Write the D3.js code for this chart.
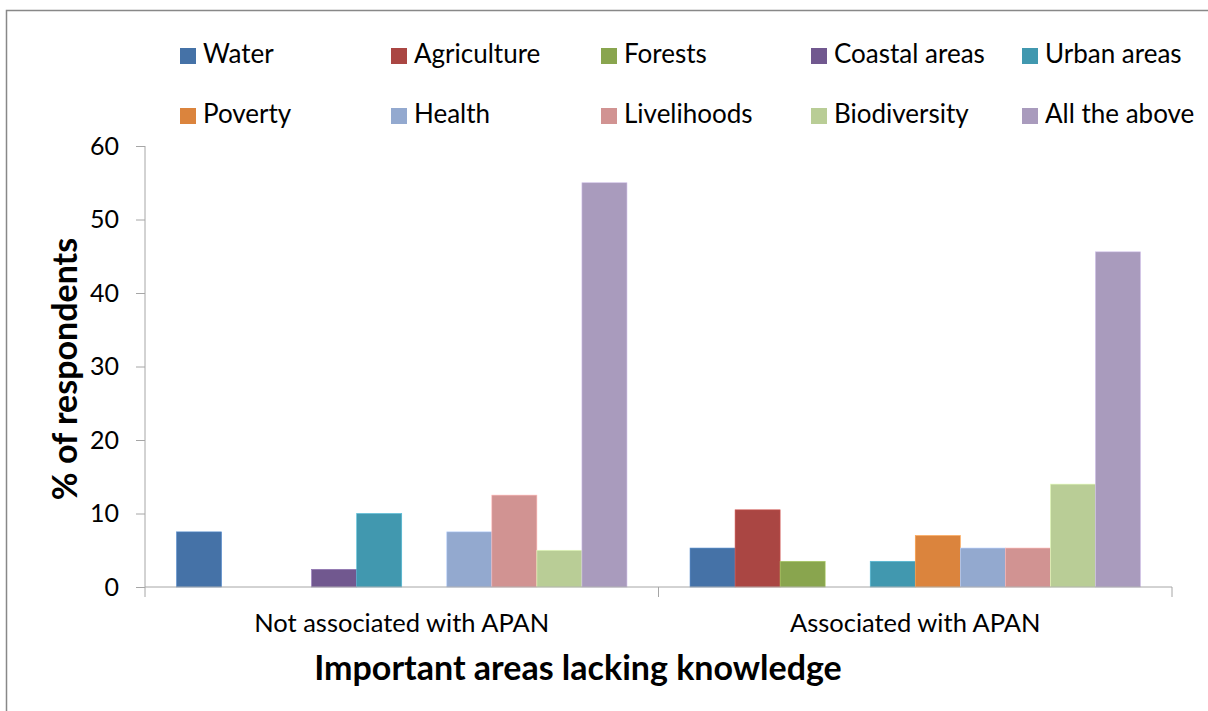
<!DOCTYPE html>
<html lang="en">
<head>
<meta charset="UTF-8">
<title>Important areas lacking knowledge</title>
<script src="https://cdnjs.cloudflare.com/ajax/libs/d3/7.8.5/d3.min.js"></script>
<style>
  * { margin: 0; padding: 0; box-sizing: border-box; }
  body { background: #fff; width: 1208px; height: 711px; overflow: hidden; }
  svg text { font-family: Lato, "Open Sans", sans-serif; fill: #000; }
</style>
</head>
<body>
<div id="chart"></div>
<script>
  // Data
  const groups = ["Not associated with APAN", "Associated with APAN"];
  const series = ["Water", "Agriculture", "Forests", "Coastal areas", "Urban areas",
                  "Poverty", "Health", "Livelihoods", "Biodiversity", "All the above"];
  const notAssociated = [7.5, 0, 0, 2.4, 10, 0, 7.5, 12.5, 5, 55];
  const associated = [5.3, 10.5, 3.5, 0, 3.5, 7, 5.3, 5.3, 14, 45.6];
  const colors = ["#4572A7", "#AA4643", "#89A54E", "#71588F", "#4198AF",
                  "#DB843D", "#93A9CF", "#D19392", "#B9CD96", "#A99BBD"];
  const yTicks = [0, 10, 20, 30, 40, 50, 60];

  const width = 1208, height = 711;
  const plot = {left: 145, right: 1172, top: 146, bottom: 587};

  const svg = d3.select("#chart").append("svg")
      .attr("width", width)
      .attr("height", height);

  // outer frame
  svg.append("rect")
      .attr("x", 6.5).attr("y", 10.5)
      .attr("width", 1220).attr("height", 720)
      .attr("fill", "none")
      .attr("stroke", "#888")
      .attr("stroke-width", 1.5);

  const values = [notAssociated, associated];

  const x0 = d3.scaleBand().domain(groups).range([plot.left, plot.right]).padding(0);
  const x1 = d3.scaleBand().domain(series).range([0, x0.bandwidth()])
      .paddingInner(0).paddingOuter(0.7);
  const y = d3.scaleLinear().domain([0, 60]).range([plot.bottom, plot.top]);

  // bars
  groups.forEach((g, gi) => {
    svg.append("g")
        .attr("transform", `translate(${x0(g)},0)`)
        .selectAll("rect")
        .data(series.map((s, si) => ({s, v: values[gi][si], c: colors[si]})).filter(d => d.v > 0))
        .join("rect")
        .attr("x", d => x1(d.s))
        .attr("y", d => y(d.v))
        .attr("width", x1.bandwidth())
        .attr("height", d => y(0) - y(d.v))
        .attr("fill", d => d.c)
        .attr("stroke", d => d3.color(d.c).brighter(0.6))
        .attr("stroke-width", 0.6);
  });

  // y axis
  const yAxis = svg.append("g")
      .attr("transform", `translate(${plot.left},0)`)
      .call(d3.axisLeft(y).tickValues(yTicks).tickSize(9).tickPadding(17));
  yAxis.select(".domain").attr("stroke", "#a6a6a6").attr("d", `M0,${plot.top}V${plot.bottom}`);
  yAxis.selectAll(".tick line").attr("stroke", "#a6a6a6");
  yAxis.selectAll(".tick text").style("font-size", "25px").attr("fill", "#000");

  // x axis
  const xAxisG = svg.append("g")
      .attr("transform", `translate(0,${plot.bottom})`);
  xAxisG.append("line")
      .attr("x1", plot.left).attr("x2", plot.right)
      .attr("stroke", "#a6a6a6");
  const bounds = [plot.left, plot.left + x0.bandwidth(), plot.right];
  xAxisG.selectAll("line.cat-tick")
      .data(bounds)
      .join("line")
      .attr("class", "cat-tick")
      .attr("x1", d => d).attr("x2", d => d)
      .attr("y1", 0).attr("y2", 10)
      .attr("stroke", "#a6a6a6");
  xAxisG.selectAll("text")
      .data(groups)
      .join("text")
      .attr("x", d => x0(d) + x0.bandwidth() / 2)
      .attr("y", 45)
      .attr("text-anchor", "middle")
      .style("font-size", "25.5px")
      .text(d => d);

  // axis titles
  svg.append("text")
      .attr("x", 578).attr("y", 680)
      .attr("text-anchor", "middle")
      .style("font-size", "34px")
      .style("font-weight", "bold")
      .text("Important areas lacking knowledge");

  svg.append("text")
      .attr("transform", "translate(77,369) rotate(-90)")
      .attr("text-anchor", "middle")
      .style("font-size", "34px")
      .style("font-weight", "bold")
      .text("% of respondents");

  // legend
  const legendX = [180, 391, 601, 811, 1022];
  const legendY = [54, 114];
  const legend = svg.append("g")
      .selectAll("g")
      .data(series)
      .join("g")
      .attr("transform", (d, i) => `translate(${legendX[i % 5]},${legendY[Math.floor(i / 5)]})`);
  legend.append("rect")
      .attr("x", 0).attr("y", -6)
      .attr("width", 16).attr("height", 16)
      .attr("fill", (d, i) => colors[i]);
  legend.append("text")
      .attr("x", 23).attr("y", 9)
      .style("font-size", "26px")
      .text(d => d);
</script>
</body>
</html>
